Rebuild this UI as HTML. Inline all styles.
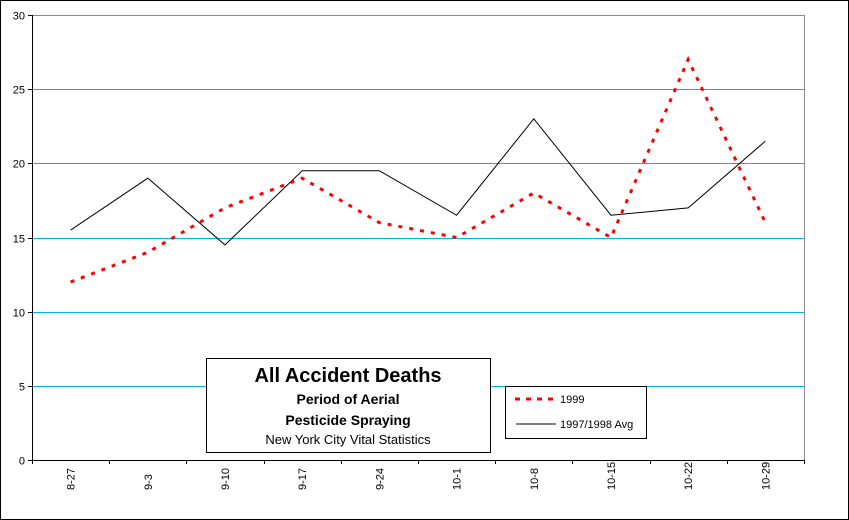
<!DOCTYPE html>
<html><head><meta charset="utf-8"><style>
body{margin:0;background:#fff}
svg{display:block;font-family:"Liberation Sans",Arial,sans-serif}
</style></head><body>
<svg id="c" width="849" height="520" xmlns="http://www.w3.org/2000/svg">
<rect x="0.5" y="0.5" width="848" height="519" fill="#fff" stroke="#000"/>
<g id="grid"></g><g id="axes"></g><g id="series"></g>
<g>
<rect x="206.5" y="358.5" width="284" height="94" fill="#fff" stroke="#000"/>
<text x="348" y="382" text-anchor="middle" font-size="20" font-weight="bold">All Accident Deaths</text>
<text x="348" y="404" text-anchor="middle" font-size="14" font-weight="bold">Period of Aerial</text>
<text x="348" y="425" text-anchor="middle" font-size="14" font-weight="bold">Pesticide Spraying</text>
<text x="348" y="444" text-anchor="middle" font-size="13">New York City Vital Statistics</text>
</g>
<g>
<rect x="505.5" y="386.5" width="141" height="52" fill="#fff" stroke="#000"/>
<line x1="515" y1="399" x2="556" y2="399" stroke="#f00" stroke-width="3" stroke-dasharray="5,6"/>
<text x="560" y="403" font-size="11">1999</text>
<line x1="516" y1="424" x2="556" y2="424" stroke="#000"/>
<text x="560" y="428" font-size="11">1997/1998 Avg</text>
</g>
</svg>
<script>
const categories=["8-27","9-3","9-10","9-17","9-24","10-1","10-8","10-15","10-22","10-29"];
const s1999=[12,14,17,19,16,15,18,15,27,16];
const sAvg=[15.5,19,14.5,19.5,19.5,16.5,23,16.5,17,21.5];
const yTicks=[0,5,10,15,20,25,30];
const NS="http://www.w3.org/2000/svg";
const L=32,R=804,T=15,B=460,yMax=30;
const bw=(R-L)/categories.length;
const xS=i=>L+bw*(i+0.5);
const yS=v=>B-(v/yMax)*(B-T);
function mk(t,a,p){const e=document.createElementNS(NS,t);for(const k in a)e.setAttribute(k,a[k]);p.appendChild(e);return e;}
const grid=document.getElementById('grid'),axes=document.getElementById('axes'),ser=document.getElementById('series');
yTicks.forEach(v=>{
  const y=Math.round(yS(v))+0.5;
  if(v>0&&v<yMax){const g=mk('line',{x1:L,x2:R,y1:y,y2:y,stroke:'#00b4e6'},grid);
  
  }
  mk('line',{x1:L-4,x2:L,y1:y,y2:y,stroke:'#000'},axes);
  const t=mk('text',{x:L-7,y:y+4,'text-anchor':'end','font-size':'11'},axes);t.textContent=v;
  
  
});
const pb=mk('rect',{x:L+0.5,y:T+0.5,width:R-L,height:B-T,fill:'none',stroke:'#8a8a9a'},grid);


mk('line',{x1:L+0.5,x2:L+0.5,y1:T,y2:B+1,stroke:'#000'},axes);
mk('line',{x1:L,x2:R,y1:B+0.5,y2:B+0.5,stroke:'#000'},axes);
for(let i=0;i<=categories.length;i++){const x=Math.round(L+bw*i)+0.5;mk('line',{x1:x,x2:x,y1:B,y2:B+4,stroke:'#000'},axes);}
categories.forEach((c,i)=>{
  const x=xS(i)+4,y=490;
  const t=mk('text',{x:x,y:y,'font-size':'11',transform:`rotate(-90 ${x} ${y})`},axes);t.textContent=c;
  
  
});
const pa=mk('polyline',{points:sAvg.map((v,i)=>xS(i)+','+yS(v)).join(' '),fill:'none',stroke:'#000','stroke-width':1},ser);


const p9=mk('polyline',{points:s1999.map((v,i)=>xS(i)+','+yS(v)).join(' '),fill:'none',stroke:'#f00','stroke-width':3,'stroke-dasharray':'4,7'},ser);


</script>
</body></html>
